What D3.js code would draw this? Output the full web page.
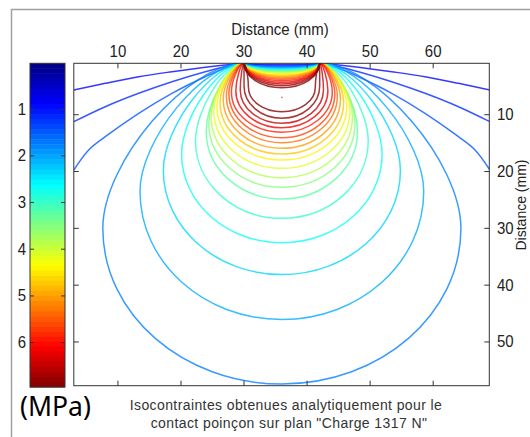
<!DOCTYPE html>
<html>
<head>
<meta charset="utf-8">
<script src="https://cdn.jsdelivr.net/npm/d3@7"></script>
<style>
  body { margin: 0; background: #fff; }
  svg { display: block; font-family: "Liberation Sans", Arial, sans-serif; }
</style>
</head>
<body>
<svg id="chart" width="530" height="437"></svg>
<script>
const xTicks = [10, 20, 30, 40, 50, 60];
const yTicks = [10, 20, 30, 40, 50];
const cbTicks = [1, 2, 3, 4, 5, 6];

// punch edges (mm) and the surface depth
const punchEdges = [30, 42];
const surfaceDepth = 0.95;

// contour levels (MPa), low to high
const levels = [0.86, 1.16, 1.46, 1.75, 2.05, 2.35, 2.65, 2.95, 3.24, 3.54, 3.84,
  4.14, 4.43, 4.73, 5.03, 5.33, 5.63, 5.92, 6.22, 6.52, 6.82, 7.12];

// depth of each level's arc under the punch, at the centre (mm)
const arcDepth = [1.16, 1.34, 1.51, 1.65, 1.78, 1.90, 2.04, 2.18, 2.31, 2.45, 2.59,
  2.75, 2.92, 3.10, 3.31, 3.54, 3.77, 4.01, 4.30, 4.60, 4.90, 5.25];

// the three lowest levels leave the frame : left branch (mm)
const openCurves = [
  [[27.0, 1.25], [23.85, 1.65], [18.57, 2.43], [13.29, 3.31], [7.99, 4.47], [3.0, 5.65]],
  [[27.0, 1.55], [23.85, 2.43], [18.57, 4.19], [13.29, 6.23], [7.99, 8.59], [3.0, 11.23]],
  [[27.0, 1.83], [23.85, 3.31], [18.57, 6.23], [13.29, 9.75], [7.99, 13.87], [5.36, 16.21], [3.0, 19.74]]
];

// closed loops (levels 4 to 22): bottom depth, half width, depth of widest point (mm)
const loopBottom = [57.4, 46.05, 38.13, 32.54, 28.24, 24.84, 22.78, 21.09, 19.44, 17.98,
  16.92, 15.92, 14.93, 14.05, 13.10, 12.29, 11.51, 10.63, 9.47];
const loopHalfWidth = [28.4, 22.5, 18.8, 15.9, 13.7, 12.0, 11.6, 11.2, 10.8, 10.3,
  9.8, 9.3, 8.8, 8.4, 8.0, 7.3, 6.6, 6.0, 5.3];
const loopWidestDepth = [30.0, 23.5, 19.8, 16.9, 14.6, 12.9, 11.5, 10.3, 9.3, 8.5,
  7.8, 7.2, 6.7, 6.3, 6.0, 5.8, 5.6, 5.0, 5.2];

const saddle = [36, 6.94];

const svg = d3.select('#chart');

const xScale = d3.scaleLinear().domain([3, 68.9]).range([73.8, 489.3]);
const yScale = d3.scaleLinear().domain([0.95, 57.7]).range([63.3, 385.7]);
const cScale = d3.scaleLinear().domain([0.02, 6.95]).range([63.3, 387]);

const jet = d3.scaleLinear()
  .domain([0, 0.125, 0.375, 0.625, 0.875, 1])
  .range(['#000080', '#0000ff', '#00ffff', '#ffff00', '#ff0000', '#800000'])
  .clamp(true);
const colour = (v) => jet((v - cScale.domain()[0]) / (cScale.domain()[1] - cScale.domain()[0]));

// outer border
svg.append('rect')
  .attr('x', 11.5).attr('y', 9.5)
  .attr('width', 540).attr('height', 440)
  .attr('fill', 'none').attr('stroke', '#a0a0a0').attr('stroke-width', 1.5);

svg.append('clipPath').attr('id', 'plot-clip')
  .append('rect')
  .attr('x', xScale.range()[0]).attr('y', yScale.range()[0])
  .attr('width', xScale.range()[1] - xScale.range()[0])
  .attr('height', yScale.range()[1] - yScale.range()[0]);

const contours = svg.append('g')
  .attr('clip-path', 'url(#plot-clip)')
  .attr('fill', 'none')
  .attr('stroke-width', 1.5)
  .attr('stroke-opacity', 0.78);

const [x0, x1] = punchEdges;
const cx = (x0 + x1) / 2;
const surf = surfaceDepth;
const k = 0.5523;
const kU = 0.4;
const X = xScale, Y = yScale;

function addArc(p, U) {
  // from right edge of the punch back to the left one, under the punch
  p.bezierCurveTo(X(x1), Y(surf + k * (U - surf)), X(cx + k * (x1 - cx)), Y(U), X(cx), Y(U));
  p.bezierCurveTo(X(cx - k * (cx - x0)), Y(U), X(x0), Y(surf + k * (U - surf)), X(x0), Y(surf));
}

function loopPath(W, H, D, U) {
  const p = d3.path();
  const xl = cx - W, xr = cx + W;
  p.moveTo(X(x0), Y(surf));
  p.bezierCurveTo(X(x0 - kU * (x0 - xl)), Y(surf), X(xl), Y(H - kU * (H - surf)), X(xl), Y(H));
  p.bezierCurveTo(X(xl), Y(H + k * (D - H)), X(cx - k * W), Y(D), X(cx), Y(D));
  p.bezierCurveTo(X(cx + k * W), Y(D), X(xr), Y(H + k * (D - H)), X(xr), Y(H));
  p.bezierCurveTo(X(xr), Y(H - kU * (H - surf)), X(x1 + kU * (xr - x1)), Y(surf), X(x1), Y(surf));
  addArc(p, U);
  return p.toString();
}

const branch = d3.line()
  .x((d) => X(d[0]))
  .y((d) => Y(d[1]))
  .curve(d3.curveCatmullRom);

levels.forEach((v, i) => {
  const col = colour(v);
  if (i < openCurves.length) {
    const left = [[x0, surf], ...openCurves[i]];
    const right = [[x1, surf], ...openCurves[i].map(([x, y]) => [x0 + x1 - x, y])];
    contours.append('path').attr('d', branch(left)).attr('stroke', col);
    contours.append('path').attr('d', branch(right)).attr('stroke', col);
    const p = d3.path();
    p.moveTo(X(x1), Y(surf));
    addArc(p, arcDepth[i]);
    contours.append('path').attr('d', p.toString()).attr('stroke', col);
  } else {
    const j = i - openCurves.length;
    contours.append('path')
      .attr('d', loopPath(loopHalfWidth[j], loopWidestDepth[j], loopBottom[j], arcDepth[i]))
      .attr('stroke', col);
  }
});

contours.append('circle')
  .attr('cx', X(saddle[0])).attr('cy', Y(saddle[1]))
  .attr('r', 0.9).attr('fill', '#d07070').attr('stroke', 'none');

// axes frame and inner ticks
const frame = svg.append('g').attr('stroke', '#333').attr('stroke-width', 1);
frame.append('rect')
  .attr('x', X.range()[0]).attr('y', Y.range()[0])
  .attr('width', X.range()[1] - X.range()[0])
  .attr('height', Y.range()[1] - Y.range()[0])
  .attr('fill', 'none');

xTicks.forEach((t) => {
  frame.append('line').attr('x1', X(t)).attr('x2', X(t))
    .attr('y1', Y.range()[0]).attr('y2', Y.range()[0] + 5);
  frame.append('line').attr('x1', X(t)).attr('x2', X(t))
    .attr('y1', Y.range()[1]).attr('y2', Y.range()[1] - 5);
});
yTicks.forEach((t) => {
  frame.append('line').attr('y1', Y(t)).attr('y2', Y(t))
    .attr('x1', X.range()[0]).attr('x2', X.range()[0] + 5);
  frame.append('line').attr('y1', Y(t)).attr('y2', Y(t))
    .attr('x1', X.range()[1]).attr('x2', X.range()[1] - 5);
});

const label = (x, y, text, anchor, size) => svg.append('text')
  .attr('transform', `translate(${x},${y}) scale(1,1.1)`)
  .attr('text-anchor', anchor)
  .attr('font-size', size)
  .attr('fill', '#222')
  .text(text);

xTicks.forEach((t) => label(X(t), 56.5, t, 'middle', 15));
yTicks.forEach((t) => label(497, Y(t) + 5.5, t, 'start', 15));
label(280, 35, 'Distance (mm)', 'middle', 15);

svg.append('text')
  .attr('transform', 'translate(526,205) rotate(-90)')
  .attr('text-anchor', 'middle')
  .attr('font-size', 14)
  .attr('fill', '#222')
  .text('Distance (mm)');

// colour bar
const cb = svg.append('g');
const nBands = 64;
const [cbTop, cbBottom] = cScale.range();
const bandH = (cbBottom - cbTop) / nBands;
cb.selectAll('rect')
  .data(d3.range(nBands))
  .join('rect')
  .attr('x', 30).attr('width', 35)
  .attr('y', (d) => cbTop + d * bandH)
  .attr('height', bandH + 0.5)
  .attr('fill', (d) => jet((d + 0.5) / nBands));
cb.append('rect')
  .attr('x', 30).attr('y', cbTop).attr('width', 35).attr('height', cbBottom - cbTop)
  .attr('fill', 'none').attr('stroke', '#333');
cbTicks.forEach((t) => {
  cb.append('line').attr('x1', 30).attr('x2', 34)
    .attr('y1', cScale(t)).attr('y2', cScale(t)).attr('stroke', '#333');
  cb.append('line').attr('x1', 61).attr('x2', 65)
    .attr('y1', cScale(t)).attr('y2', cScale(t)).attr('stroke', '#333');
  label(26, cScale(t) + 5.5, t, 'end', 15);
});

svg.append('text')
  .attr('x', 20).attr('y', 416)
  .attr('font-family', '"Noto Sans", sans-serif')
  .attr('font-size', 26.5)
  .attr('fill', '#000')
  .text('(MPa)');

const caption = svg.append('text')
  .attr('text-anchor', 'middle')
  .attr('font-size', 14)
  .attr('letter-spacing', 0.4)
  .attr('fill', '#333');
caption.append('tspan').attr('x', 286).attr('y', 409.5)
  .text('Isocontraintes obtenues analytiquement pour le');
caption.append('tspan').attr('x', 289).attr('y', 427.5)
  .text('contact poinçon sur plan "Charge 1317 N"');
</script>
</body>
</html>
